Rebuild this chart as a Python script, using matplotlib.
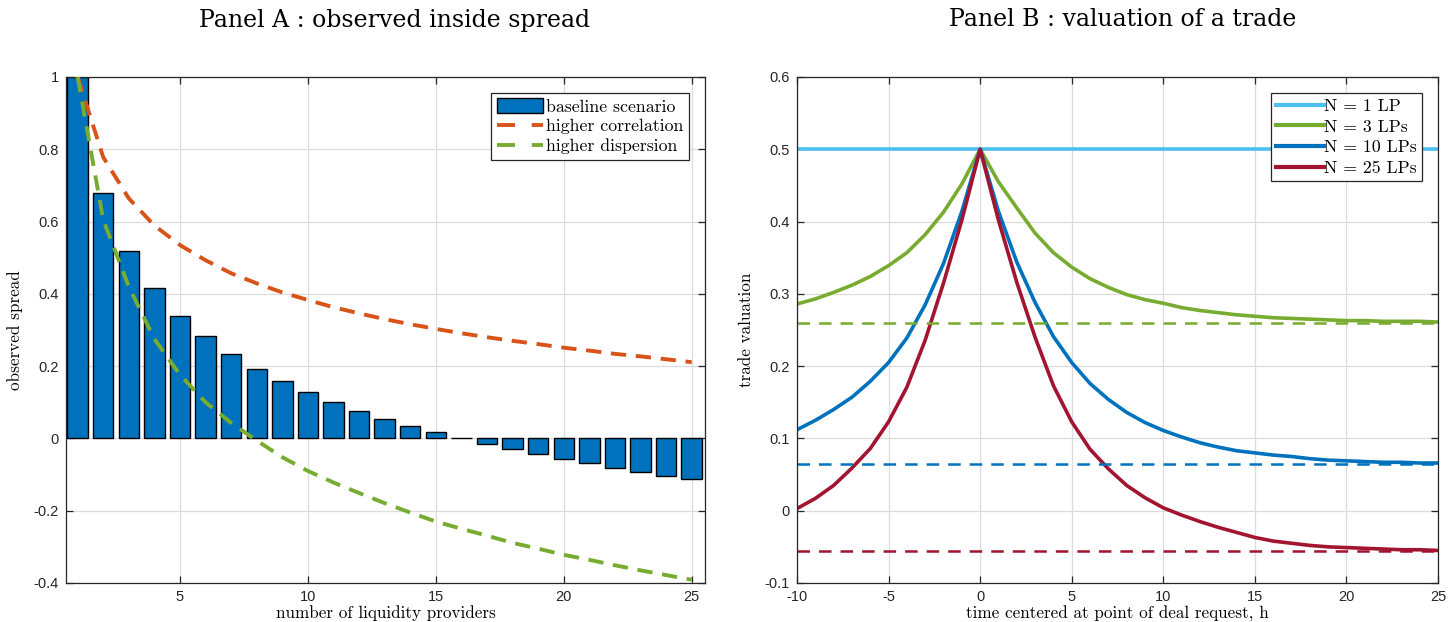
import numpy as np
import matplotlib
matplotlib.use('Agg')
import matplotlib.pyplot as plt
from matplotlib.patches import Patch
from matplotlib.lines import Line2D

plt.rcParams['font.family'] = 'Liberation Sans'
plt.rcParams['axes.unicode_minus'] = False
plt.rcParams['lines.scale_dashes'] = False

# Panel A: spread against the number of liquidity providers
providers = np.arange(1, 26)
baseline_spread = [1.0, 0.678, 0.518, 0.415, 0.340, 0.283, 0.234, 0.193, 0.159, 0.128,
                   0.101, 0.077, 0.055, 0.035, 0.017, 0.001, -0.016, -0.030, -0.044, -0.057,
                   -0.069, -0.081, -0.092, -0.103, -0.112]
high_corr_spread = [1.0, 0.778, 0.664, 0.589, 0.535, 0.493, 0.457, 0.429, 0.404, 0.383,
                    0.363, 0.346, 0.330, 0.316, 0.303, 0.291, 0.280, 0.270, 0.261, 0.251,
                    0.243, 0.234, 0.227, 0.219, 0.211]
high_disp_spread = [1.0, 0.605, 0.420, 0.275, 0.176, 0.100, 0.043, -0.006, -0.052, -0.090,
                    -0.122, -0.151, -0.179, -0.205, -0.230, -0.250, -0.269, -0.289, -0.305, -0.322,
                    -0.336, -0.351, -0.365, -0.378, -0.391]

# Panel B: trade valuation around the deal request
hours = np.arange(-10, 26)
val_1lp = 0.5
val_3lp = [0.286, 0.293, 0.302, 0.312, 0.324, 0.339, 0.357, 0.382, 0.413, 0.452,
           0.5,
           0.455, 0.419, 0.384, 0.357, 0.337, 0.321, 0.309, 0.299, 0.292, 0.287,
           0.281, 0.277, 0.274, 0.271, 0.269, 0.267, 0.266, 0.265, 0.264, 0.263,
           0.263, 0.262, 0.262, 0.262, 0.261]
val_10lp = [0.112, 0.125, 0.140, 0.157, 0.179, 0.205, 0.239, 0.285, 0.342, 0.414,
            0.5,
            0.414, 0.344, 0.288, 0.241, 0.205, 0.176, 0.154, 0.136, 0.122, 0.111,
            0.102, 0.094, 0.088, 0.083, 0.080, 0.077, 0.075, 0.072, 0.070, 0.069,
            0.068, 0.067, 0.067, 0.066, 0.066]
val_25lp = [0.003, 0.017, 0.035, 0.059, 0.086, 0.123, 0.171, 0.236, 0.315, 0.402,
            0.5,
            0.402, 0.316, 0.240, 0.173, 0.123, 0.085, 0.058, 0.035, 0.018, 0.004,
            -0.006, -0.015, -0.023, -0.030, -0.037, -0.042, -0.045, -0.048, -0.050, -0.051,
            -0.052, -0.053, -0.054, -0.054, -0.055]
limit_3lp = 0.26
limit_10lp = 0.064
limit_25lp = -0.056

c_bar = '#0072BD'
c_orange = '#D95319'
c_green = '#77AC30'
c_sky = '#4DBEEE'
c_red = '#A2142F'
ink = '#262626'
cm = 'cmr10'
serif_title = 'DejaVu Serif'

fig = plt.figure(figsize=(14.48, 6.22), dpi=100)
axA = fig.add_axes([66 / 1448, 1 - 583 / 622, 639 / 1448, 506 / 622])
axB = fig.add_axes([797 / 1448, 1 - 583 / 622, 641 / 1448, 506 / 622])


def style_axes(ax):
    ax.grid(True, color='#dcdcdc', linewidth=0.9)
    ax.set_axisbelow(True)
    for s in ax.spines.values():
        s.set_color(ink)
        s.set_linewidth(0.9)
    ax.tick_params(direction='in', top=True, right=True, length=5, width=0.9,
                   colors=ink, labelsize=10.5, pad=5)


# --- Panel A ---
axA.bar(providers, baseline_spread, width=0.8, color=c_bar, edgecolor='black',
        linewidth=1.0, zorder=2)
axA.plot(providers, high_corr_spread, color=c_orange, lw=2.8, dashes=(11, 7), zorder=3)
axA.plot(providers, high_disp_spread, color=c_green, lw=2.8, dashes=(11, 7), zorder=4)
axA.set_xlim(0.545, 25.52)
axA.set_ylim(-0.4, 1.0)
axA.set_xticks([5, 10, 15, 20, 25])
yt = [-0.4, -0.2, 0, 0.2, 0.4, 0.6, 0.8, 1.0]
axA.set_yticks(yt)
axA.set_yticklabels(['%g' % v for v in yt])
style_axes(axA)
axA.set_xlabel('number of liquidity providers', fontfamily=cm, fontsize=12.3, labelpad=1)
axA.set_ylabel('observed spread', fontfamily=cm, fontsize=12.3, labelpad=8)

handlesA = [Patch(facecolor=c_bar, edgecolor='black', linewidth=1.0),
            Line2D([], [], color=c_orange, lw=2.8, linestyle=(0, (13, 12))),
            Line2D([], [], color=c_green, lw=2.8, linestyle=(0, (13, 12)))]
legA = axA.legend(handlesA, ['baseline scenario', 'higher correlation', 'higher dispersion'],
                  loc='upper right', prop={'family': cm, 'size': 12.8},
                  fancybox=False, edgecolor=ink, framealpha=1,
                  handlelength=2.6, handleheight=0.85, handletextpad=0.2,
                  labelspacing=0.2, borderpad=0.3, borderaxespad=0.9)
legA.get_frame().set_linewidth(0.9)
for ln in legA.get_lines():
    ln.set_linestyle((0, (13, 12)))

# --- Panel B ---
axB.plot(hours, np.full(len(hours), val_1lp), color=c_sky, lw=2.6, label='N = 1 LP')
axB.plot(hours, val_3lp, color=c_green, lw=2.6, label='N = 3 LPs')
axB.plot(hours, val_10lp, color=c_bar, lw=2.6, label='N = 10 LPs')
axB.plot(hours, val_25lp, color=c_red, lw=2.6, label='N = 25 LPs')
axB.plot(hours, np.full(len(hours), limit_3lp), color=c_green, lw=1.8, dashes=(9, 6.5))
axB.plot(hours, np.full(len(hours), limit_10lp), color=c_bar, lw=1.8, dashes=(9, 6.5))
axB.plot(hours, np.full(len(hours), limit_25lp), color=c_red, lw=1.8, dashes=(9, 6.5))
axB.set_xlim(-10, 25)
axB.set_ylim(-0.1, 0.6)
xtB = [-10, -5, 0, 5, 10, 15, 20, 25]
axB.set_xticks(xtB)
ytB = [-0.1, 0, 0.1, 0.2, 0.3, 0.4, 0.5, 0.6]
axB.set_yticks(ytB)
axB.set_yticklabels(['%g' % v for v in ytB])
style_axes(axB)
axB.set_xlabel('time centered at point of deal request, h', fontfamily=cm, fontsize=12.3, labelpad=1)
axB.set_ylabel('trade valuation', fontfamily=cm, fontsize=12.3, labelpad=8)
legB = axB.legend(loc='upper right', prop={'family': cm, 'size': 12.8},
                  fancybox=False, edgecolor=ink, framealpha=1,
                  handlelength=2.7, handletextpad=0.0,
                  labelspacing=0.3, borderpad=0.3, borderaxespad=0.9)
legB.get_frame().set_linewidth(0.9)
for ln in legB.get_lines():
    ln.set_linewidth(3.0)

fig.text(395 / 1448, 1 - 20 / 622, 'Panel A : observed inside spread',
         ha='center', va='center', fontfamily=serif_title, fontsize=17)
fig.text(1123 / 1448, 1 - 20 / 622, 'Panel B : valuation of a trade',
         ha='center', va='center', fontfamily=serif_title, fontsize=17)

fig.savefig('out.png', dpi=100)
